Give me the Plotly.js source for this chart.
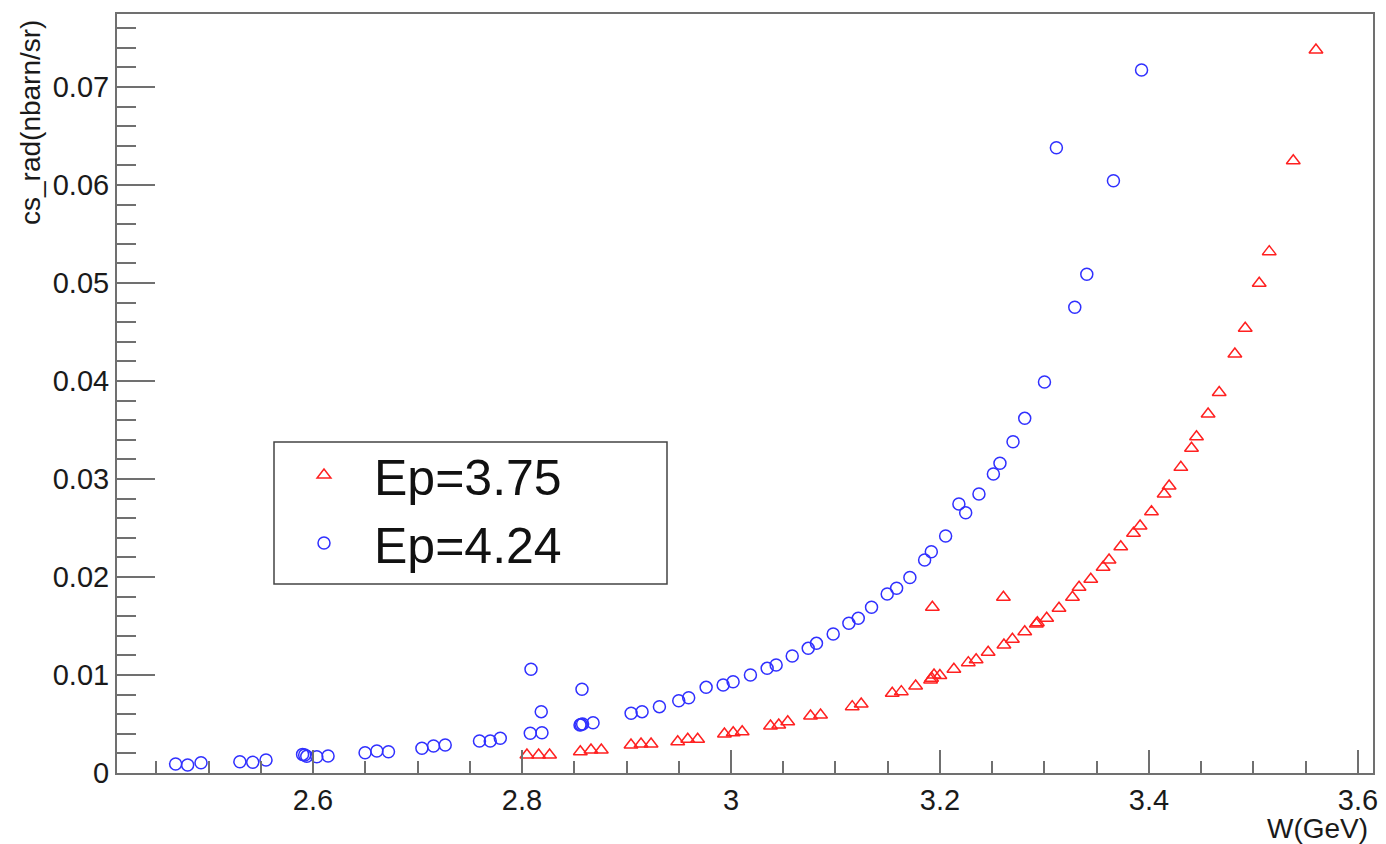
<!DOCTYPE html>
<html>
<head>
<meta charset="utf-8">
<script src="https://cdn.plot.ly/plotly-3.0.1.min.js"></script>
<style>html,body{margin:0;padding:0;background:#fff;}#chart{width:1386px;height:844px;}</style>
</head>
<body>
<div id="chart"></div>
<script>
// Ep=3.75 series (red open triangles)
const redW = [2.8047, 2.8159, 2.8264, 2.8558, 2.866, 2.8759, 2.9043, 2.9139, 2.9235, 2.949, 2.9586, 2.9681,
  2.9937, 3.0021, 3.0107, 3.0378, 3.0457, 3.0543, 3.0761, 3.0857, 3.116, 3.1246, 3.1543, 3.163, 3.1767,
  3.191, 3.192, 3.1927, 3.1943, 3.1999, 3.2133, 3.2271, 3.2346, 3.2461, 3.2607, 3.2612, 3.2693, 3.2811,
  3.2922, 3.2932, 3.3021, 3.3139, 3.3268, 3.3331, 3.3443, 3.3561, 3.3618, 3.373, 3.3852, 3.3915, 3.4024,
  3.4145, 3.4193, 3.4305, 3.4407, 3.4455, 3.4566, 3.4672, 3.4822, 3.4921, 3.5055, 3.5151, 3.5381, 3.5598];
const redCS = [0.00184, 0.00184, 0.00184, 0.00217, 0.00235, 0.00235, 0.00286, 0.00296, 0.00296, 0.00319, 0.00344, 0.00344,
  0.00398, 0.00411, 0.00421, 0.0048, 0.0049, 0.00523, 0.00582, 0.00592, 0.00677, 0.00704, 0.00813, 0.0083, 0.00888,
  0.0095, 0.00966, 0.01691, 0.0100, 0.00995, 0.01058, 0.01126, 0.01156, 0.01233, 0.01793, 0.01306, 0.01364, 0.01442,
  0.0152, 0.01534, 0.01579, 0.01681, 0.01793, 0.01895, 0.01977, 0.02099, 0.02173, 0.02309, 0.02446, 0.0252, 0.02666,
  0.02847, 0.02929, 0.03119, 0.03313, 0.03432, 0.03663, 0.03883, 0.04276, 0.04538, 0.04997, 0.0532, 0.06248, 0.07378];

// Ep=4.24 series (blue open circles)
const blueW = [2.4685, 2.480, 2.4928, 2.530, 2.5423, 2.555, 2.590, 2.592, 2.594, 2.6036, 2.6144, 2.6498, 2.6611,
  2.6722, 2.7042, 2.7153, 2.7265, 2.7593, 2.7696, 2.7792, 2.8079, 2.8086, 2.8184, 2.8191, 2.8555, 2.8565, 2.8574,
  2.8580, 2.868, 2.9044, 2.9149, 2.9315, 2.95, 2.9595, 2.9762, 2.9925, 3.002, 3.0186, 3.0346, 3.0432, 3.0586,
  3.0739, 3.0818, 3.0978, 3.1128, 3.1218, 3.1345, 3.1495, 3.1585, 3.1712, 3.1853, 3.1917, 3.2054, 3.2181, 3.2246,
  3.2373, 3.2511, 3.2574, 3.2699, 3.2811, 3.3, 3.3114, 3.329, 3.3405, 3.366, 3.3929];
const blueCS = [0.00092, 0.00082, 0.00105, 0.00115, 0.00109, 0.00133, 0.0019, 0.00184, 0.0017, 0.00166, 0.00173, 0.00207, 0.00224,
  0.00217, 0.00252, 0.00276, 0.00286, 0.00327, 0.00327, 0.00354, 0.00405, 0.01058, 0.00626, 0.00411, 0.0049, 0.00495, 0.00854,
  0.0050, 0.00513, 0.00609, 0.00626, 0.00677, 0.00738, 0.00768, 0.00874, 0.00898, 0.00932, 0.0100, 0.01068, 0.01102, 0.01194,
  0.01272, 0.01323, 0.01418, 0.01528, 0.01579, 0.01691, 0.01827, 0.01885, 0.01995, 0.02173, 0.02258, 0.02418, 0.02745, 0.02656,
  0.02847, 0.03051, 0.0316, 0.03381, 0.03619, 0.0399, 0.0638, 0.04752, 0.05089, 0.06044, 0.07173];

const seriesNames = ["Ep=3.75", "Ep=4.24"];
const xTitle = "W(GeV)";
const yTitle = "cs_rad(nbarn/sr)";

const FONT = "Liberation Sans, Arial, Helvetica, sans-serif";
const AX = "#707070";

const traces = [
  {x: redW, y: redCS, name: seriesNames[0], type: "scatter", mode: "markers",
   marker: {symbol: "triangle-up-open", size: 12, color: "#ff2020", line: {width: 1.5, color: "#ff2020"}}},
  {x: blueW, y: blueCS, name: seriesNames[1], type: "scatter", mode: "markers",
   marker: {symbol: "circle-open", size: 12, color: "#3030ff", line: {width: 1.5, color: "#3030ff"}}}
];

const layout = {
  width: 1386, height: 844,
  margin: {l: 117, r: 13, t: 14, b: 71, pad: 0},
  paper_bgcolor: "#fff", plot_bgcolor: "#fff",
  font: {family: FONT, color: "#1a1a1a"},
  showlegend: true,
  legend: {x: 0.125, xanchor: "left", y: 0.444, yanchor: "top", bgcolor: "rgba(0,0,0,0)", borderwidth: 0,
           font: {family: FONT, size: 50, color: "#111"}, itemwidth: 90, tracegroupgap: 0},
  xaxis: {range: [2.4124, 3.6144], dtick: 0.2, tick0: 0, showgrid: false, zeroline: false,
          showline: true, linecolor: AX, linewidth: 2, mirror: true,
          ticks: "inside", ticklen: 23, tickwidth: 2, tickcolor: AX,
          tickfont: {family: FONT, size: 29, color: "#1a1a1a"},
          minor: {dtick: 0.05, ticks: "inside", ticklen: 12, tickwidth: 2, tickcolor: AX, showgrid: false}},
  yaxis: {range: [0, 0.07745], dtick: 0.01, tick0: 0, showgrid: false, zeroline: false,
          showline: true, linecolor: AX, linewidth: 2, mirror: true,
          ticks: "inside", ticklen: 38, tickwidth: 2, tickcolor: AX,
          tickfont: {family: FONT, size: 29, color: "#1a1a1a"},
          minor: {dtick: 0.002, ticks: "inside", ticklen: 19, tickwidth: 2, tickcolor: AX, showgrid: false}},
  shapes: [
    {type: "rect", xref: "paper", yref: "paper", x0: 0.125, x1: 0.4379, y0: 0.249, y1: 0.4361,
     line: {color: "#444", width: 1.5}, fillcolor: "#fff", layer: "below"}
  ],
  annotations: [
    {text: xTitle, xref: "paper", yref: "paper", x: 0.9976, y: -0.0725, xanchor: "right", yanchor: "middle",
     showarrow: false, font: {family: FONT, size: 28, color: "#1a1a1a"}},
    {text: yTitle, xref: "paper", yref: "paper", x: -0.0693, y: 0.8577, xanchor: "center", yanchor: "middle",
     textangle: -90, showarrow: false, font: {family: FONT, size: 28, color: "#1a1a1a"}}
  ]
};

Plotly.newPlot("chart", traces, layout, {displayModeBar: false, staticPlot: true});
</script>
</body>
</html>
